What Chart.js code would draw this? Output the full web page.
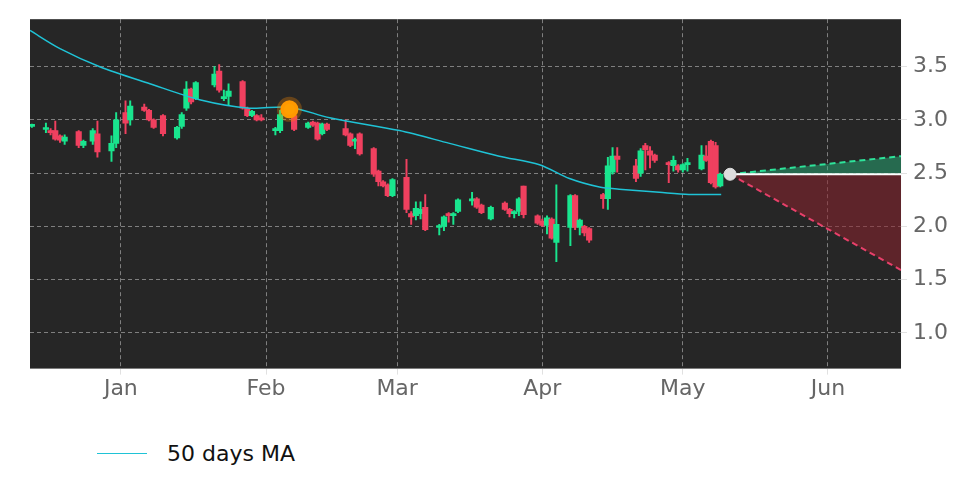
<!DOCTYPE html>
<html><head><meta charset="utf-8">
<script src="https://cdn.jsdelivr.net/npm/chart.js@4/dist/chart.umd.min.js"></script>
<style>
body{margin:0;background:#fff;width:972px;height:486px;overflow:hidden;font-family:"DejaVu Sans",sans-serif}
#wrap{position:absolute;left:0;top:0;width:972px;height:403px}
#leg{position:absolute;left:97px;top:441px;font-size:22px;color:#111;display:flex;align-items:center}
#leg span.l{display:inline-block;width:50px;height:1.5px;background:#1fc3d6;margin-right:20px}
</style></head><body>
<div id="wrap"><canvas id="c" width="972" height="403" style="width:972px;height:403px"></canvas></div>
<div id="leg"><span class="l"></span>50 days MA</div>
<script>
const monthTicks=[0,31,59,90,120,151];
const monthLabels=["Jan","Feb","Mar","Apr","May","Jun"];
const days=[-19,-16,-15,-14,-13,-12,-9,-8,-6,-5,-2,-1,1,2,5,6,7,9,12,13,14,15,16,20,21,22,23,26,27,28,29,30,33,34,37,40,41,42,43,44,48,49,50,51,54,55,56,57,58,61,62,63,64,65,68,69,70,71,72,75,76,77,79,82,83,84,85,86,89,90,91,92,93,96,97,98,99,100,103,104,105,106,110,111,112,113,114,117,118,119,120,121,124,125,126,127,128];
const open=[2.94,2.91,2.90,2.90,2.85,2.80,2.89,2.76,2.80,2.87,2.71,2.78,3.07,3.00,3.12,3.09,3.00,3.04,2.83,2.94,3.11,3.29,3.20,3.33,3.46,3.20,3.22,3.36,3.11,3.04,3.04,3.02,2.90,2.90,3.04,2.93,2.98,2.97,2.87,2.96,2.92,2.87,2.80,2.87,2.73,2.52,2.42,2.39,2.29,2.46,2.12,2.10,2.12,2.18,1.99,2.00,2.12,2.10,2.14,2.24,2.26,2.20,2.07,2.22,2.16,2.12,2.14,2.38,2.10,2.05,2.01,2.07,1.85,1.99,2.29,1.99,2.00,1.98,2.30,2.26,2.51,2.66,2.57,2.50,2.76,2.71,2.67,2.60,2.57,2.57,2.53,2.58,2.54,2.66,2.80,2.76,2.38];
const close=[2.95,2.92,2.88,2.82,2.81,2.84,2.76,2.80,2.90,2.70,2.78,3.00,2.97,3.13,3.09,3.00,2.93,2.87,2.93,3.05,3.29,3.17,3.35,3.43,3.28,3.22,3.27,3.11,3.04,3.08,3.00,3.00,2.91,3.05,2.91,2.97,2.95,2.82,2.96,2.91,2.86,2.76,2.81,2.68,2.49,2.42,2.38,2.29,2.44,2.16,2.09,2.17,2.16,1.97,2.00,2.09,2.10,2.12,2.25,2.25,2.18,2.13,2.18,2.16,2.12,2.13,2.26,2.11,2.03,2.01,2.08,1.89,2.02,2.29,1.99,2.06,1.94,1.87,2.26,2.57,2.66,2.63,2.45,2.71,2.72,2.67,2.62,2.58,2.62,2.53,2.58,2.59,2.67,2.62,2.41,2.37,2.49];
const high=[2.96,2.97,2.92,2.99,2.86,2.86,2.90,2.81,2.92,2.99,2.85,3.07,3.18,3.18,3.15,3.10,3.01,3.05,2.94,3.07,3.36,3.30,3.36,3.50,3.52,3.28,3.34,3.37,3.12,3.09,3.05,3.05,2.93,3.09,3.05,2.98,2.99,2.98,2.97,2.97,3.00,2.88,2.83,2.88,2.74,2.53,2.43,2.40,2.45,2.63,2.14,2.23,2.23,2.30,2.02,2.10,2.13,2.13,2.26,2.32,2.27,2.21,2.19,2.23,2.17,2.15,2.27,2.38,2.11,2.07,2.10,2.08,2.39,2.30,2.30,2.07,2.01,1.99,2.31,2.65,2.74,2.74,2.63,2.73,2.78,2.75,2.68,2.61,2.66,2.58,2.59,2.64,2.76,2.76,2.81,2.79,2.50];
const low=[2.93,2.88,2.86,2.81,2.79,2.77,2.74,2.74,2.77,2.65,2.61,2.74,2.87,2.95,3.08,2.99,2.92,2.85,2.82,2.92,3.09,3.15,3.19,3.31,3.26,3.18,3.14,3.10,3.03,3.03,2.99,2.99,2.86,2.88,2.90,2.92,2.94,2.81,2.86,2.90,2.85,2.75,2.73,2.67,2.47,2.38,2.37,2.28,2.28,2.13,2.02,2.06,2.07,1.96,1.92,1.96,2.04,2.02,2.13,2.20,2.17,2.12,2.06,2.15,2.09,2.08,2.10,2.08,2.02,2.00,1.93,1.88,1.67,1.82,1.97,1.92,1.91,1.85,2.17,2.16,2.49,2.51,2.42,2.47,2.53,2.55,2.60,2.41,2.52,2.51,2.51,2.52,2.53,2.61,2.40,2.36,2.37];
const maDays=[-19.4,-13,-4.5,6.2,16.8,27.5,36,44.6,59.5,70.2,80.8,89.4,95.8,102.2,106.4,115,121.3,128.2];
const maVals=[3.84,3.67,3.50,3.34,3.19,3.11,3.12,3.02,2.90,2.78,2.66,2.58,2.45,2.37,2.35,2.32,2.30,2.30];
const lastDay=130.1, lastVal=2.49, endDay=166.6;
const upperEnd=2.66, lowerEnd=1.59;
const markDay=36.0, markVal=3.10;

const GREEN='#19e58e', RED='#f0405f';
const cols=days.map((d,i)=>close[i]>=open[i]?GREEN:RED);
const bodies=days.map((d,i)=>({x:d,y:[Math.min(open[i],close[i]),Math.max(open[i],close[i])]}));
const wicks=days.map((d,i)=>({x:d,y:[low[i],high[i]]}));
const bg={id:'bg',beforeDraw(c){const a=c.chartArea,ctx=c.ctx;ctx.save();ctx.fillStyle='#262626';ctx.fillRect(a.left,a.top,a.right-a.left,a.bottom-a.top);ctx.restore();}};
new Chart(document.getElementById('c'),{
 type:'bar',
 data:{datasets:[
  {type:'line',data:[{x:lastDay,y:lastVal},{x:endDay,y:upperEnd}],borderColor:'#2ee39a',borderDash:[6,4],borderWidth:2,pointRadius:0,fill:{target:{value:lastVal}},backgroundColor:'rgba(40,190,130,0.45)',order:5},
  {type:'line',data:[{x:lastDay,y:lastVal},{x:endDay,y:lowerEnd}],borderColor:'#e8406a',borderDash:[6,4],borderWidth:2,pointRadius:0,fill:{target:{value:lastVal}},backgroundColor:'rgba(140,35,45,0.55)',order:5},
  {type:'line',data:[{x:lastDay,y:lastVal},{x:endDay,y:lastVal}],borderColor:'#ffffff',borderWidth:2,pointRadius:0,order:4},
  {data:wicks,backgroundColor:cols,barThickness:1.3,grouped:false,order:3},
  {data:bodies,backgroundColor:cols,barThickness:5.5,grouped:false,minBarLength:2,order:2},
  {type:'line',data:maDays.map((d,i)=>({x:d,y:maVals[i]})),borderColor:'#1fc3d6',borderWidth:1.5,pointRadius:0,tension:0.3,order:1},
  {type:'line',data:[{x:markDay,y:markVal}],pointRadius:9,pointBorderWidth:7,pointBackgroundColor:'#ff9f00',pointBorderColor:'rgba(255,140,0,0.3)',showLine:false,order:0},
  {type:'line',data:[{x:lastDay,y:lastVal}],pointRadius:6,pointBackgroundColor:'#dddddd',pointBorderColor:'#dddddd',showLine:false,order:0}
 ]},
 options:{responsive:false,animation:false,devicePixelRatio:1,
  layout:{padding:{left:30,top:9,right:18,bottom:0}},
  plugins:{legend:{display:false},tooltip:{enabled:false}},
  scales:{
   x:{type:'linear',min:-19.4,max:endDay,offset:false,
     afterBuildTicks(s){s.ticks=monthTicks.map(v=>({value:v}));},
     ticks:{callback:(v)=>monthLabels[monthTicks.indexOf(v)],color:'#666',font:{size:22,family:'DejaVu Sans'},maxRotation:0,autoSkip:false,padding:1},
     grid:{offset:false,color:'rgba(200,200,200,0.55)',tickLength:6,drawTicks:true},border:{dash:[4,3],display:false}},
   y:{position:'right',min:0.665,max:3.946,
     afterBuildTicks(s){s.ticks=[1,1.5,2,2.5,3,3.5].map(v=>({value:v}));},
     ticks:{callback:v=>v.toFixed(1),color:'#666',font:{size:22,family:'DejaVu Sans'},padding:6},
     grid:{color:'rgba(200,200,200,0.55)',tickLength:6},border:{dash:[4,3],display:false}}
  }},
 plugins:[bg]
});
</script>
</body></html>
